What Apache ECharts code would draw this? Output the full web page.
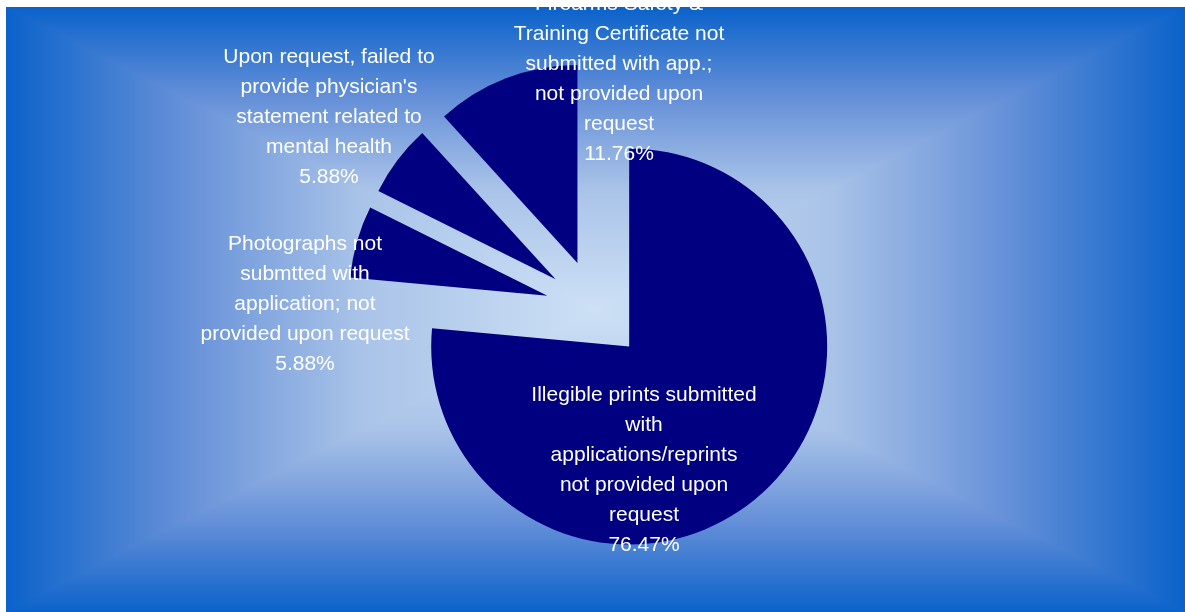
<!DOCTYPE html>
<html>
<head>
<meta charset="utf-8">
<script src="https://cdn.jsdelivr.net/npm/echarts@6/dist/echarts.min.js"></script>
<style>
  html, body { margin: 0; padding: 0; background: #ffffff; }
  #chart { position: absolute; left: 6px; top: 7px; width: 1179px; height: 605px; }
</style>
</head>
<body>
<div id="chart"></div>
<script>
// data, clockwise from 12 o'clock
const categories = [
  'Illegible prints submitted\nwith\napplications/reprints\nnot provided upon\nrequest',
  'Photographs not\nsubmtted with\napplication; not\nprovided upon request',
  "Upon request, failed to\nprovide physician's\nstatement related to\nmental health",
  'Firearms Safety &\nTraining Certificate not\nsubmitted with app.;\nnot provided upon\nrequest'
];
const counts = [13, 1, 1, 2];

// where each label block should sit (container px)
const labelSpots = [[638, 463], [299, 297], [323, 110], [613, 72]];

const W = 1179, H = 605, cx = W / 2, cy = H / 2;
const pieCenter = ['50%', '50%'];
const pieRadius = 198;
const total = counts.reduce((a, b) => a + b, 0);

const edge = '#0a62ca', c1 = '#6590d8', c2 = '#a9c3e8', mid = '#cde0f5';
const stops = [
  { offset: 0, color: edge },
  { offset: 0.3, color: c1 },
  { offset: 0.6, color: c2 },
  { offset: 1, color: mid }
];
const grad = (x, y, x2, y2) => ({ type: 'linear', x, y, x2, y2, colorStops: stops });

// rectangular "from centre" gradient: a vertical mirrored band underneath,
// left and right triangles on top
const bg = [
  {
    type: 'rect',
    z: -11,
    silent: true,
    shape: { x: 0, y: 0, width: W, height: H },
    style: {
      fill: {
        type: 'linear', x: 0, y: 0, x2: 0, y2: 1,
        colorStops: [
          { offset: 0, color: edge },
          { offset: 0.15, color: c1 },
          { offset: 0.3, color: c2 },
          { offset: 0.5, color: mid },
          { offset: 0.7, color: c2 },
          { offset: 0.85, color: c1 },
          { offset: 1, color: edge }
        ]
      }
    }
  },
  { type: 'polygon', z: -10, silent: true, shape: { points: [[0, 0], [0, H], [cx, cy]] }, style: { fill: grad(0, 0, 1, 0) } },
  { type: 'polygon', z: -10, silent: true, shape: { points: [[W, 0], [W, H], [cx, cy]] }, style: { fill: grad(1, 0, 0, 0) } }
];

const chart = echarts.init(document.getElementById('chart'));

chart.setOption({
  animation: false,
  graphic: bg,
  series: [
    {
      // the slices, every one pulled out from the centre
      type: 'pie',
      center: pieCenter,
      radius: [0, pieRadius],
      startAngle: 90,
      clockwise: true,
      selectedMode: 'multiple',
      selectedOffset: 50,
      silent: true,
      itemStyle: { color: '#000080', borderWidth: 0 },
      select: { itemStyle: { color: '#000080', borderWidth: 0 } },
      label: { show: false },
      labelLine: { show: false },
      data: categories.map((name, i) => ({ name, value: counts[i], selected: true }))
    },
    {
      // same data, invisible wedges, only carries the labels
      type: 'pie',
      center: pieCenter,
      radius: [0, pieRadius],
      startAngle: 90,
      clockwise: true,
      silent: true,
      z: 5,
      avoidLabelOverlap: false,
      itemStyle: { color: 'rgba(0,0,0,0)', borderWidth: 0 },
      label: {
        show: true,
        position: 'inside',
        color: '#ffffff',
        fontFamily: 'Liberation Sans, Arial, sans-serif',
        fontSize: 21,
        lineHeight: 30,
        align: 'center',
        formatter: p => p.name + '\n' + (p.value / total * 100).toFixed(2) + '%'
      },
      labelLine: { show: false },
      labelLayout: p => ({
        x: labelSpots[p.dataIndex][0],
        y: labelSpots[p.dataIndex][1],
        align: 'center',
        verticalAlign: 'middle'
      }),
      data: categories.map((name, i) => ({ name, value: counts[i] }))
    }
  ]
});

window.addEventListener('resize', () => chart.resize());
</script>
</body>
</html>
